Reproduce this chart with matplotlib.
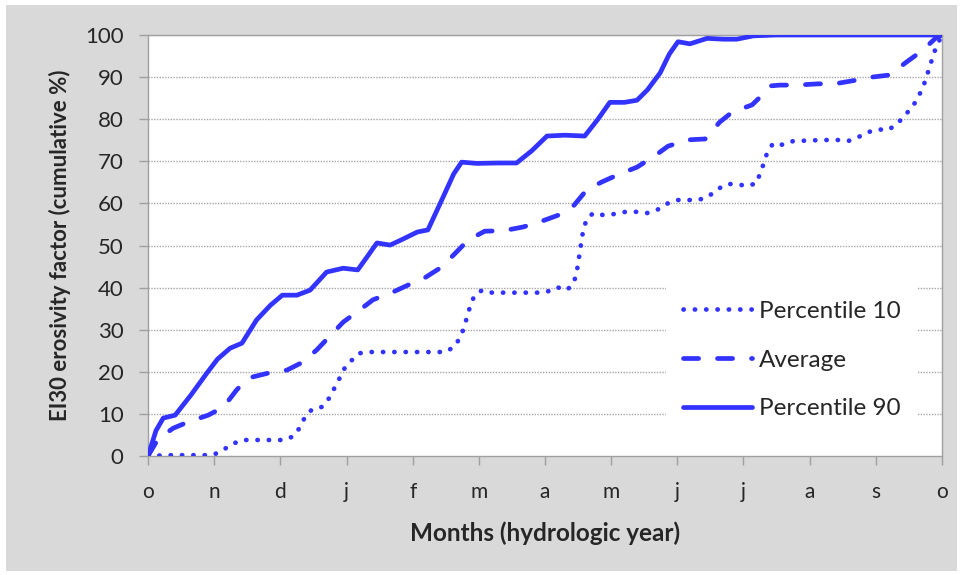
import matplotlib
matplotlib.use("Agg")
import matplotlib.pyplot as plt
from matplotlib.patches import Rectangle

plt.rcParams['font.family'] = ['Lato', 'DejaVu Sans']

month_labels = ['o', 'n', 'd', 'j', 'f', 'm', 'a', 'm', 'j', 'j', 'a', 's', 'o']
y_ticks = [0, 10, 20, 30, 40, 50, 60, 70, 80, 90, 100]

# Percentile 90 (solid)
p90_x = [0, 0.12, 0.23, 0.41, 0.65, 0.89, 1.05, 1.24, 1.42, 1.64, 1.85, 2.03, 2.25, 2.45,
         2.70, 2.95, 3.17, 3.32, 3.46, 3.66, 3.85, 4.07, 4.23, 4.46, 4.62, 4.74, 4.97,
         5.3, 5.57, 5.80, 6.03, 6.3, 6.60, 6.80, 6.98, 7.2, 7.39, 7.55, 7.74, 7.88, 8.01,
         8.19, 8.45, 8.70, 8.90, 9.15, 9.5, 10.5, 11.5, 12]
p90_y = [0, 6.0, 9.0, 9.7, 14.5, 19.7, 23.0, 25.6, 26.8, 32.3, 35.8, 38.2, 38.2, 39.4,
         43.7, 44.6, 44.2, 47.5, 50.6, 50.1, 51.5, 53.2, 53.7, 61.5, 67.0, 69.8, 69.5,
         69.6, 69.6, 72.5, 76.0, 76.2, 76.0, 80.0, 84.0, 84.0, 84.5, 87.0, 91.0, 95.5, 98.4,
         97.9, 99.2, 99.0, 99.0, 99.8, 100, 100, 100, 100]

# Average (dashed)
avg_x = [0, 0.15, 0.38, 0.61, 0.91, 1.14, 1.34, 1.51, 1.82, 2.10, 2.34, 2.55, 2.95, 3.20,
         3.40, 3.71, 3.93, 4.15, 4.44, 4.84, 5.09, 5.37, 5.67, 5.92, 6.20, 6.43, 6.63,
         6.86, 7.13, 7.39, 7.66, 7.86, 8.16, 8.42, 8.64, 8.83, 9.13, 9.28, 9.40, 9.55,
         9.80, 10.13, 10.38, 10.71, 10.94, 11.21, 11.44, 11.71, 11.92, 12]
avg_y = [0, 4.0, 6.6, 8.1, 9.7, 11.6, 15.7, 18.5, 19.7, 20.4, 22.3, 25.2, 31.8, 34.7,
         37.1, 39.0, 40.6, 42.0, 44.9, 51.3, 53.4, 53.5, 54.4, 55.6, 57.2, 59.4, 63.2,
         65.1, 67.0, 68.6, 71.3, 73.6, 75.1, 75.3, 79.3, 81.7, 83.4, 85.7, 87.9, 88.1,
         88.1, 88.4, 88.4, 89.3, 90.0, 90.5, 93.3, 96.4, 99.5, 100]

# Percentile 10 (dotted)
p10_x = [0, 0.3, 0.6, 0.97, 1.12, 1.24, 1.42, 1.7, 2.07, 2.21, 2.30, 2.37, 2.48, 2.64,
         2.74, 2.81, 2.89, 2.96, 3.07, 3.19, 3.35, 3.7, 4.0, 4.34, 4.50, 4.64, 4.72, 4.78,
         4.82, 4.87, 4.93, 5.05, 5.2, 5.5, 5.88, 6.03, 6.18, 6.33, 6.43, 6.48, 6.50, 6.53,
         6.55, 6.58, 6.63, 6.73, 6.89, 7.06, 7.22, 7.39, 7.54, 7.69, 7.84, 7.99, 8.31,
         8.46, 8.60, 8.75, 8.90, 9.05, 9.20, 9.25, 9.31, 9.36, 9.45, 9.60, 9.75, 10.1,
         10.4, 10.58, 10.73, 10.88, 11.03, 11.18, 11.32, 11.44, 11.55, 11.63, 11.71,
         11.76, 11.81, 11.86, 11.91, 12]
p10_y = [0, 0.2, 0.2, 0.2, 1.2, 2.6, 3.8, 3.8, 3.8, 4.8, 6.9, 9.2, 11.1, 11.7,
         13.8, 15.9, 18.3, 20.6, 22.6, 24.4, 24.7, 24.7, 24.7, 24.7, 24.7, 26.1, 28.3, 30.6,
         33.0, 35.6, 38.0, 39.4, 38.8, 38.8, 38.8, 39.0, 40.1, 39.4, 41.0, 43.5, 46.0, 48.5,
         51.2, 53.7, 56.3, 57.7, 57.2, 57.5, 58.0, 58.0, 57.7, 58.4, 59.9, 60.8, 60.8,
         61.5, 63.3, 64.6, 64.6, 64.1, 64.8, 67.2, 69.6, 72.2, 74.3, 73.9, 74.8, 75.0,
         75.1, 74.8, 75.7, 76.9, 77.6, 77.4, 78.8, 81.0, 82.8, 85.0, 87.4,
         89.8, 92.2, 94.8, 97.1, 100]

line_color = '#3333FF'
grid_color = '#A6A6A6'
text_color = '#262626'

fig = plt.figure(figsize=(9.6, 5.75), dpi=100)
fig.patch.set_facecolor('white')
fig.patches.append(Rectangle((6 / 960, 1 - 571 / 575), 951 / 960, 566 / 575,
                             transform=fig.transFigure, facecolor='#D9D9D9',
                             edgecolor='none', zorder=-10))

ax = fig.add_axes([148 / 960, 1 - 456 / 575, 794 / 960, 421 / 575])
ax.set_facecolor('white')

lw = 3.4
ax.plot(p10_x, p10_y, color=line_color, lw=lw, linestyle=(0, (0.05, 2.35)),
        dash_capstyle='round', solid_joinstyle='round', label='Percentile 10', zorder=3)
ax.plot(avg_x, avg_y, color=line_color, lw=lw, linestyle=(0, (3.2, 4.0)),
        dash_capstyle='round', dash_joinstyle='round', label='Average', zorder=3)
ax.plot(p90_x, p90_y, color=line_color, lw=lw, linestyle='-',
        solid_capstyle='round', solid_joinstyle='round', label='Percentile 90', zorder=3)

ax.set_xlim(0, 12)
ax.set_ylim(0, 100)
ax.set_xticks(range(13))
ax.set_xticklabels(month_labels)
ax.set_yticks(y_ticks)
ax.set_yticklabels([str(v) for v in y_ticks])

for v in y_ticks[1:]:
    ax.axhline(v, color=grid_color, lw=1.0, linestyle=(0, (1, 1)), zorder=1)

for s in ax.spines.values():
    s.set_color('#A0A0A0')
    s.set_linewidth(1.0)

ax.tick_params(axis='both', direction='out', length=6.5, width=1.0, color='#A0A0A0',
               labelcolor=text_color)
ax.tick_params(axis='y', labelsize=16, pad=11)
ax.tick_params(axis='x', labelsize=15, pad=12)

ax.set_xlabel('Months (hydrologic year)', fontsize=17.5, fontweight='bold',
              color=text_color, labelpad=14)
ax.set_ylabel('EI30 erosivity factor (cumulative %)', fontsize=16, fontweight='bold',
              color=text_color, labelpad=10)

leg = ax.legend(loc='center left', bbox_to_anchor=(0.637, 0.228), frameon=True,
                fontsize=17.5, handlelength=2.85, labelspacing=1.15, borderpad=0.7,
                handletextpad=0.28, fancybox=False)
leg.get_frame().set_facecolor('white')
leg.get_frame().set_edgecolor('none')
leg.get_frame().set_alpha(1.0)
for t in leg.get_texts():
    t.set_color(text_color)
leg.set_zorder(5)

fig.savefig('out.png', dpi=100, facecolor=fig.get_facecolor())
